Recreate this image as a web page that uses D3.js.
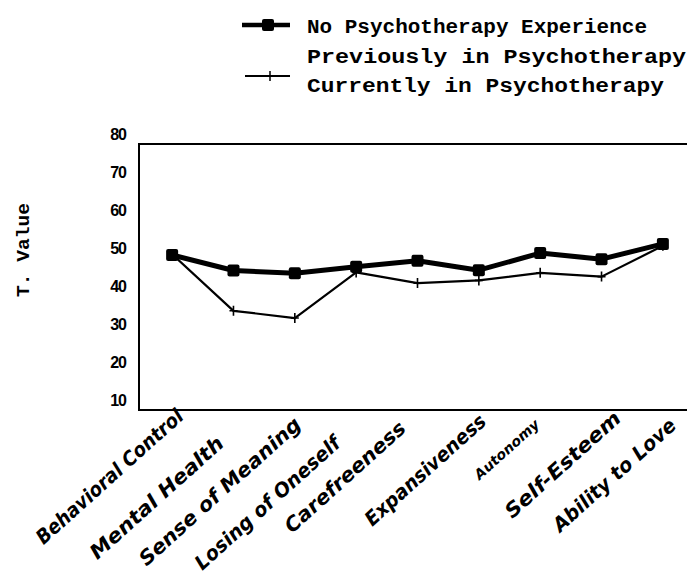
<!DOCTYPE html>
<html>
<head>
<meta charset="utf-8">
<script src="https://cdn.jsdelivr.net/npm/d3@7"></script>
<style>
  html, body { margin: 0; padding: 0; background: #fff; }
  svg { display: block; }
</style>
</head>
<body>
<svg id="chart" width="687" height="586"></svg>
<script>
// Scale categories (x axis)
const categories = [
  "Behavioral Control", "Mental Health", "Sense of Meaning", "Losing of Oneself",
  "Carefreeness", "Expansiveness", "Autonomy", "Self-Esteem", "Ability to Love"
];

// Mean T values per group
const noTherapy = [48.3, 44.2, 43.5, 45.2, 46.8, 44.3, 48.8, 47.2, 51.2];
const currentTherapy = [48.5, 33.6, 31.7, 43.7, 40.9, 41.6, 43.6, 42.6, 50.7];

// Legend entries and y-axis ticks
const legendLabels = [
  "No Psychotherapy Experience",
  "Previously in Psychotherapy",
  "Currently in Psychotherapy"
];
const yTicks = [10, 20, 30, 40, 50, 60, 70, 80];
const yTitle = "T. Value";

const svg = d3.select("#chart");

// Plot frame
const frame = { left: 139, top: 144, right: 700, bottom: 410 };

const x = d3.scalePoint()
  .domain(categories)
  .range([frame.left, 696])
  .padding(0.54);

const y = d3.scaleLinear()
  .domain([7.5, 77.5])
  .range([frame.bottom, frame.top]);

svg.append("rect")
  .attr("x", frame.left)
  .attr("y", frame.top)
  .attr("width", frame.right - frame.left)
  .attr("height", frame.bottom - frame.top)
  .attr("fill", "none")
  .attr("stroke", "#000")
  .attr("stroke-width", 2);

// Y axis labels (no tick marks)
const yAxis = d3.axisLeft(y).tickValues(yTicks).tickSize(0).tickPadding(0);
const yg = svg.append("g")
  .attr("transform", `translate(126,0)`)
  .call(yAxis);
yg.select(".domain").remove();
yg.selectAll("text")
  .attr("font-family", "Liberation Sans, Arial, sans-serif")
  .attr("font-weight", "bold")
  .attr("font-size", 16)
  .attr("letter-spacing", -1)
  .attr("fill", "#000");

// Y axis title
svg.append("text")
  .attr("transform", "translate(29,250) rotate(-90)")
  .attr("text-anchor", "middle")
  .attr("font-family", "Liberation Mono, DejaVu Sans Mono, monospace")
  .attr("font-weight", "bold")
  .attr("font-size", 18)
  .attr("textLength", 94)
  .attr("lengthAdjust", "spacingAndGlyphs")
  .text(yTitle);

// Rotated category labels
const labelLen = [190, 172, 210, 188, 155, 155, 82, 148, 158];
const labelNudge = [[8, 413], [-13, 440], [3, 421], [-19, 440], [-15, 425], [4, 418], [-3, 422], [16, 415], [10, 422]];
svg.append("g")
  .selectAll("text")
  .data(categories)
  .join("text")
  .attr("transform", (d, i) => `translate(${x(d) + labelNudge[i][0]},${labelNudge[i][1]}) rotate(-42)`)
  .attr("text-anchor", "end")
  .attr("dy", "0.35em")
  .attr("font-family", "DejaVu Sans, sans-serif")
  .attr("font-style", "italic")
  .attr("font-weight", "bold")
  .attr("font-size", (d, i) => i === 6 ? 14 : 20)
  .attr("textLength", (d, i) => labelLen[i])
  .attr("lengthAdjust", "spacingAndGlyphs")
  .attr("fill", "#000")
  .text(d => d);

const line = d3.line()
  .x((d, i) => x(categories[i]))
  .y(d => y(d));

// Currently in psychotherapy: thin line with cross ticks
svg.append("path")
  .datum(currentTherapy)
  .attr("d", line)
  .attr("fill", "none")
  .attr("stroke", "#000")
  .attr("stroke-width", 2.2)
  .attr("stroke-linejoin", "round");

svg.append("g")
  .selectAll("path")
  .data(currentTherapy)
  .join("path")
  .attr("d", (d, i) => {
    const cx = x(categories[i]), cy = y(d);
    return `M${cx},${cy - 5}L${cx},${cy + 5}M${cx - 4},${cy}L${cx + 4},${cy}`;
  })
  .attr("stroke", "#000")
  .attr("stroke-width", 1.6);

// No psychotherapy experience: thick line with square markers
svg.append("path")
  .datum(noTherapy)
  .attr("d", line)
  .attr("fill", "none")
  .attr("stroke", "#000")
  .attr("stroke-width", 5)
  .attr("stroke-linejoin", "round");

svg.append("g")
  .selectAll("rect")
  .data(noTherapy)
  .join("rect")
  .attr("x", (d, i) => x(categories[i]) - 6)
  .attr("y", d => y(d) - 6)
  .attr("width", 12)
  .attr("height", 12)
  .attr("rx", 2)
  .attr("fill", "#000");

// Legend
const legend = svg.append("g");
legend.append("line")
  .attr("x1", 242).attr("x2", 290).attr("y1", 25).attr("y2", 25)
  .attr("stroke", "#000").attr("stroke-width", 4.5);
legend.append("rect")
  .attr("x", 262).attr("y", 19).attr("width", 12).attr("height", 12).attr("rx", 2)
  .attr("fill", "#000");
legend.append("line")
  .attr("x1", 245).attr("x2", 290).attr("y1", 76).attr("y2", 76)
  .attr("stroke", "#000").attr("stroke-width", 1.8);
legend.append("path")
  .attr("d", "M270,71L270,81M266,76L274,76")
  .attr("stroke", "#000").attr("stroke-width", 1.5);

const legendLen = [340, 379, 357];
legend.selectAll("text.lg")
  .data(legendLabels)
  .join("text")
  .attr("class", "lg")
  .attr("x", 307)
  .attr("y", (d, i) => 33 + i * 29.5)
  .attr("font-family", "Liberation Mono, DejaVu Sans Mono, monospace")
  .attr("font-weight", "bold")
  .attr("font-size", 20)
  .attr("textLength", (d, i) => legendLen[i])
  .attr("lengthAdjust", "spacingAndGlyphs")
  .attr("fill", "#000")
  .text(d => d);
</script>
</body>
</html>
